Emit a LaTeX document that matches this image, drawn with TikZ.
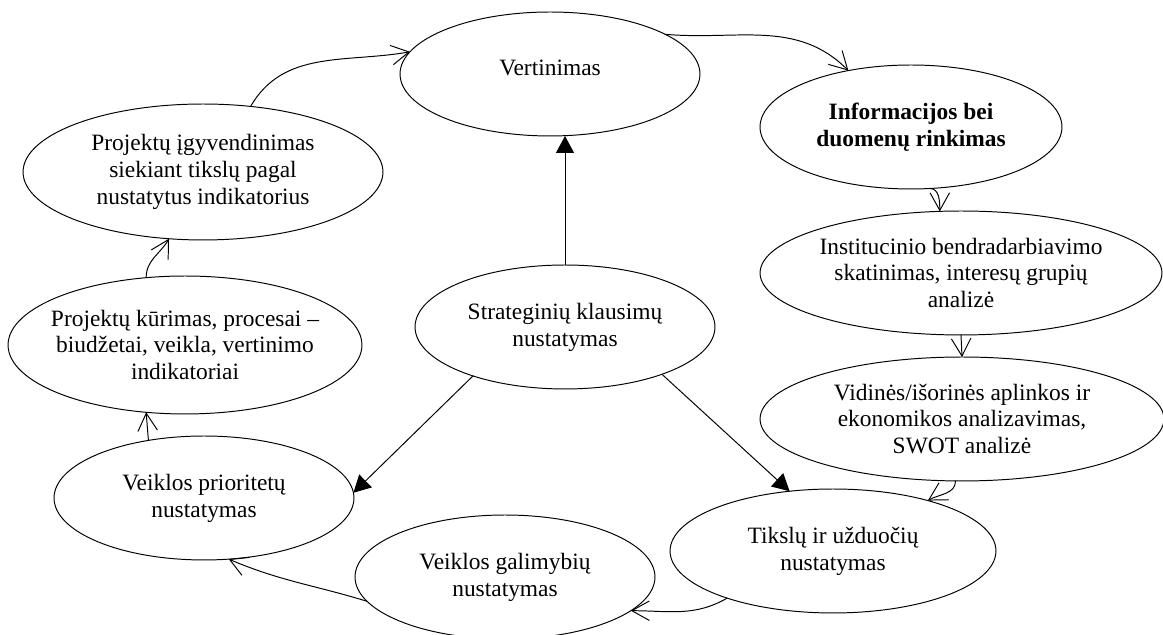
\documentclass[tikz,border=0pt]{standalone}
\usepackage{fontspec}
\setmainfont{Liberation Serif}
\usetikzlibrary{shapes.geometric,arrows.meta}

\begin{document}
\begin{tikzpicture}[x=0.018cm, y=0.018cm,
    bubble/.style={draw, ellipse, line width=0.5pt, inner sep=-8pt, outer sep=0pt, align=center,
      minimum width=5.4cm, minimum height=2.232cm, font=\fontsize{12}{13.8}\selectfont},
    cycarr/.style={-{Straight Barb[length=9pt,width=10pt]}, line width=0.5pt},
    mainarr/.style={-{Triangle[length=8.7pt,width=9.2pt]}, line width=0.5pt},
    line join=round, line cap=round]
  \useasboundingbox (0,0) rectangle (1163,635);

  \node[bubble] (vert) at (550,561) {\raisebox{6pt}{Vertinimas}};
  \node[bubble, minimum width=5.436cm] (info) at (911,508) {\textbf{Informacijos bei}\\\textbf{duomenų rinkimas}};
  \node[bubble, minimum width=7.236cm] (inst) at (961,362) {Institucinio bendradarbiavimo\\skatinimas, interesų grupių\\analizė};
  \node[bubble, minimum width=7.272cm] (vid) at (962,216) {Vidinės/išorinės aplinkos ir\\ekonomikos analizavimas,\\SWOT analizė};
  \node[bubble, minimum width=5.868cm] (tiksl) at (833,84) {Tikslų ir užduočių\\nustatymas};
  \node[bubble] (galim) at (505,58) {Veiklos galimybių\\nustatymas};
  \node[bubble] (prior) at (204,137) {Veiklos prioritetų\\nustatymas};
  \node[bubble, minimum width=6.372cm, minimum height=2.484cm] (kur) at (185,290) {Projektų kūrimas, procesai --\\biudžetai, veikla, vertinimo\\indikatoriai};
  \node[bubble, minimum width=6.48cm, minimum height=2.448cm] (igyv) at (203,463) {Projektų įgyvendinimas\\siekiant tikslų pagal\\nustatytus indikatorius};
  \node[bubble] (strat) at (565,308) {Strateginių klausimų\\nustatymas};

  % ratas
  \draw[cycarr] (igyv.54) to[out=60, in=190] (vert.171);
  \draw[cycarr] (vert.19) to[out=-5, in=135] (info.138);
  \draw[cycarr] (info.-73) to[out=0, in=90] (inst.109);
  \draw[cycarr] (inst.south) -- (vid.north);
  \draw[cycarr] (vid.-96) to[out=-90, in=30] (tiksl.28);
  \draw[cycarr] (tiksl.-156) to[out=210, in=0] (galim.-15);
  \draw[cycarr] (galim.-170) to[out=163, in=-23] (prior.-68);
  \draw[cycarr] (prior.134) -- (kur.-120);
  \draw[cycarr] (kur.120) to[out=90, in=-120] (igyv.-117);

  % is centro
  \draw[mainarr] (strat.north) -- (strat.north |- vert.south);
  \draw[mainarr] (strat.-152) -- (prior.2);
  \draw[mainarr] (strat.-26) -- (tiksl.126);
\end{tikzpicture}
\end{document}
